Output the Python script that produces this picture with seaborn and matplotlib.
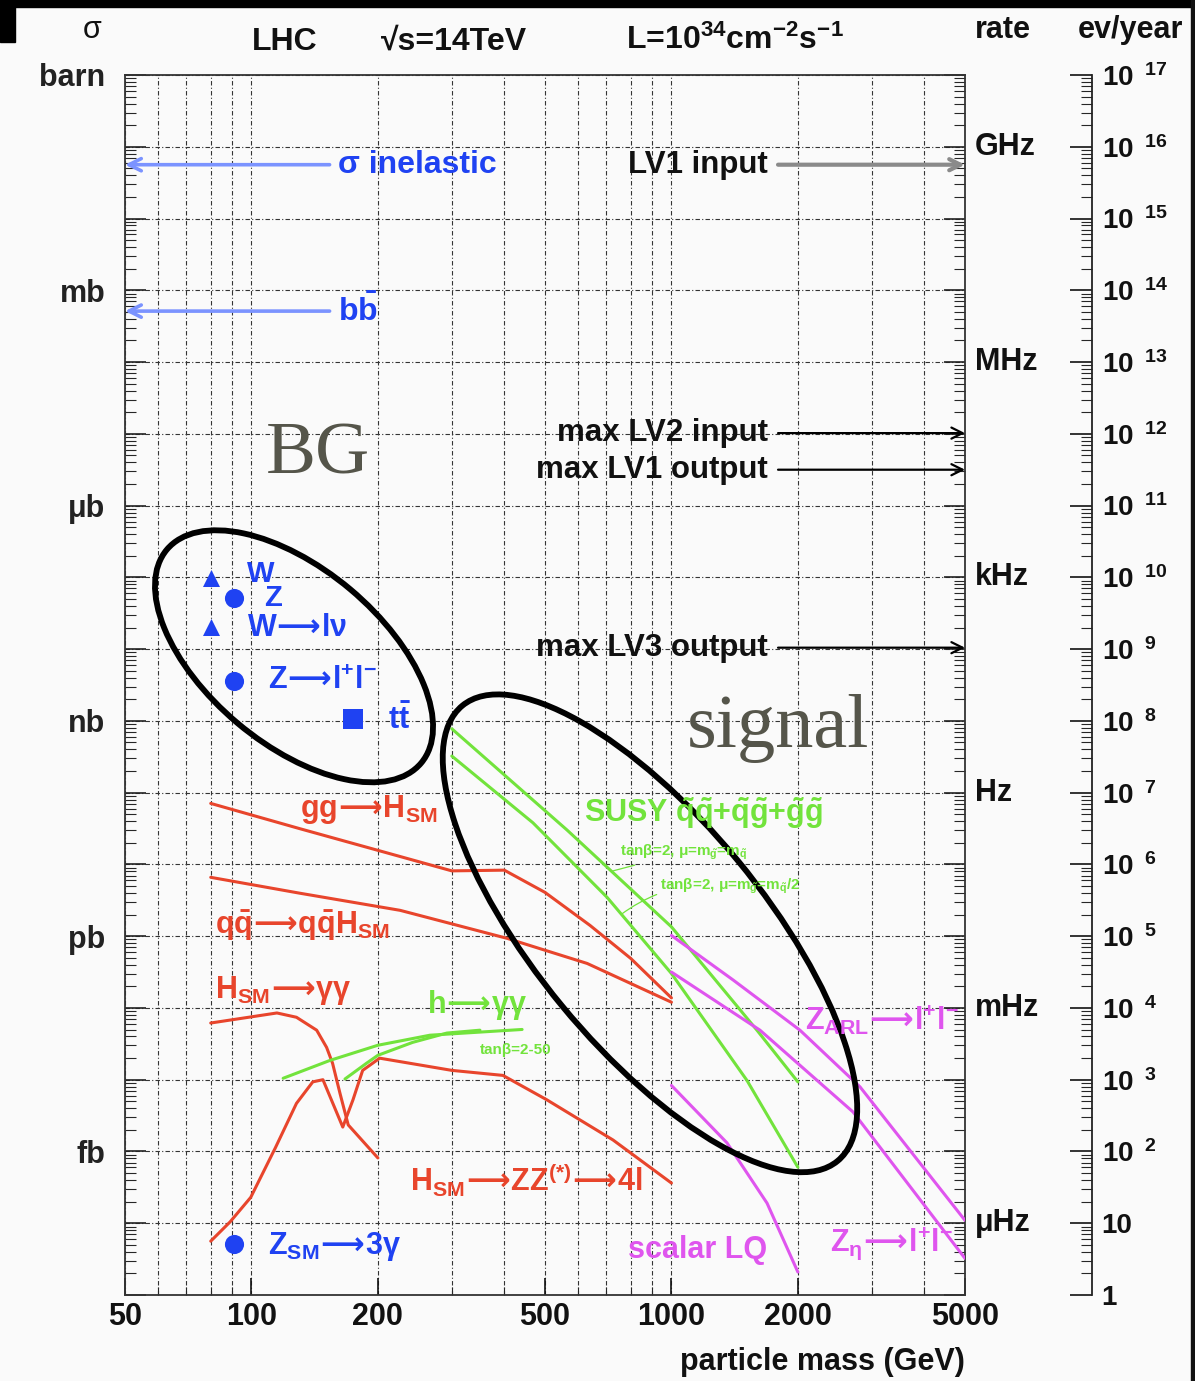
import numpy as np
import pandas as pd
import matplotlib
matplotlib.use('Agg')
import matplotlib.pyplot as plt
import matplotlib.ticker as mticker
import matplotlib.transforms as mtransforms
from matplotlib.patches import Ellipse, Rectangle
import seaborn as sns

# ---------------- data ----------------
mass_ticks = [50, 100, 200, 500, 1000, 2000, 5000]
mass_minor = [60, 70, 80, 90, 300, 400, 600, 700, 800, 900, 3000, 4000]
sigma_units = ['barn', 'mb', 'μb', 'nb', 'pb', 'fb']
sigma_unit_exp = [0, -3, -6, -9, -12, -15]
rate_units = ['GHz', 'MHz', 'kHz', 'Hz', 'mHz', 'μHz']
rate_unit_exp = [-1, -4, -7, -10, -13, -16]
evyear_exp = list(range(0, 18))

# total cross sections (log10 barn)
inelastic_log = -1.25
bbbar_log = -3.29

# trigger levels (log10 barn equivalent)
trigger_names = ['LV1 input', 'max LV2 input', 'max LV1 output', 'max LV3 output']
trigger_log = [-1.25, -4.99, -5.50, -7.98]

# background / SM points
pt_mass = [80.2, 90.9, 80.2, 90.9, 174.6, 90.9]
pt_log = [-7.01, -7.29, -7.69, -8.44, -8.97, -16.29]
pt_marker = ['^', 'o', '^', 'o', 's', 'o']

# curves: mass (GeV) and log10(sigma / barn)
ggH_m = [80, 130, 300, 400, 500, 640, 800, 1000]
ggH_l = [-10.15, -10.50, -11.09, -11.08, -11.39, -11.85, -12.31, -12.86]
qqH_m = [80, 130, 226, 406, 630, 1000]
qqH_l = [-11.18, -11.40, -11.64, -12.03, -12.38, -12.92]
Hgg_m = [80, 115, 128, 143, 151, 156, 162.5, 170, 200]
Hgg_l = [-13.21, -13.07, -13.13, -13.31, -13.55, -13.77, -14.19, -14.63, -15.09]
HZZ_m = [80, 89, 99.6, 114, 128, 140, 148, 165, 174.5, 184, 202, 300, 397, 505, 726, 1000]
HZZ_l = [-16.25, -15.98, -15.64, -14.95, -14.33, -14.03, -14.00, -14.66, -14.28,
         -13.87, -13.70, -13.87, -13.94, -14.28, -14.84, -15.44]
hgg_up_m = [119, 154, 200, 266, 441]
hgg_up_l = [-13.98, -13.73, -13.52, -13.38, -13.30]
hgg_lo_m = [167, 188, 200, 242, 292, 350]
hgg_lo_l = [-13.99, -13.77, -13.66, -13.48, -13.35, -13.31]
susy1_m = [300, 564, 1000, 1598, 2000]
susy1_l = [-9.11, -10.52, -11.87, -13.31, -14.03]
susy2_m = [300, 468, 703, 1000, 1513, 2000]
susy2_l = [-9.49, -10.42, -11.46, -12.52, -14.01, -15.22]
zarl_m = [1000, 1402, 2023, 2812, 5000]
zarl_l = [-11.99, -12.61, -13.31, -14.10, -15.96]
zeta_m = [1000, 1625, 2707, 5000]
zeta_l = [-12.50, -13.31, -14.45, -16.49]
lq_m = [1000, 1356, 1689, 2000]
lq_l = [-14.08, -14.88, -15.72, -16.68]

# ellipses: centre (mass, log10 sigma)
bg_ell_center = (126.3, -8.10)
sig_ell_center = (889.0, -11.96)

# ---------------- style ----------------
sns.set_theme(style='white')
plt.rcParams['font.family'] = ['Liberation Sans', 'DejaVu Sans']
plt.rcParams['font.weight'] = 'bold'
plt.rcParams['mathtext.fontset'] = 'custom'
plt.rcParams['mathtext.rm'] = 'Liberation Sans:bold'
plt.rcParams['mathtext.bf'] = 'Liberation Sans:bold'
plt.rcParams['mathtext.it'] = 'Liberation Sans:bold'
plt.rcParams['mathtext.sf'] = 'DejaVu Sans'

RED = '#e8452c'
GREEN = '#72e33c'
MAG = '#df55ee'
BLUE = '#1f42f2'
BLUE_L = '#7b93ff'
BGC = '#fafafa'
ARR = r'$\!\mathsf{\longrightarrow}\!$'

W, H = 1195, 1381
fig = plt.figure(figsize=(W / 100, H / 100), dpi=100, facecolor=BGC)
ax = fig.add_axes([125 / W, 1 - 1295 / H, 840 / W, 1220 / H])
ax.set_facecolor(BGC)
ax.set_xscale('log')
ax.set_yscale('log')
ax.set_xlim(50, 5000)
ax.set_ylim(1e-17, 1)

# ticks
ax.xaxis.set_major_locator(mticker.FixedLocator(mass_ticks))
ax.xaxis.set_major_formatter(mticker.FixedFormatter([str(v) for v in mass_ticks]))
ax.xaxis.set_minor_locator(mticker.FixedLocator(mass_minor))
ax.xaxis.set_minor_formatter(mticker.NullFormatter())
ax.yaxis.set_major_locator(mticker.FixedLocator([10.0 ** e for e in range(-17, 1)]))
ax.yaxis.set_minor_locator(mticker.LogLocator(base=10, subs=np.arange(2, 10), numticks=1000))
unit_map = dict(zip(sigma_unit_exp, sigma_units))
ax.yaxis.set_major_formatter(mticker.FuncFormatter(
    lambda v, p: unit_map.get(int(round(np.log10(v))), '')))
ax.yaxis.set_minor_formatter(mticker.NullFormatter())
ax.tick_params(axis='y', which='major', direction='in', length=15, width=1.2,
               left=True, right=True, labelsize=22, pad=14, colors='#222')
ax.tick_params(axis='y', which='minor', direction='in', length=8, width=0.8,
               left=True, right=True)
ax.tick_params(axis='x', which='major', direction='in', length=12, width=1.2,
               bottom=True, top=False, labelsize=22, pad=5, colors='#111')
ax.tick_params(axis='x', which='minor', direction='in', length=6, width=0.8,
               bottom=True, top=False)
for s in ax.spines.values():
    s.set_color('#333')
    s.set_linewidth(1.3)

gls = (0, (4, 2, 1, 2))
ax.set_axisbelow(True)
ax.grid(True, axis='x', which='both', color='#333', lw=0.8, linestyle=gls)
ax.grid(True, axis='y', which='major', color='#333', lw=0.8, linestyle=gls)

# ---------------- curves ----------------
curves = [
    (ggH_m, ggH_l, RED), (qqH_m, qqH_l, RED), (Hgg_m, Hgg_l, RED), (HZZ_m, HZZ_l, RED),
    (hgg_up_m, hgg_up_l, GREEN), (hgg_lo_m, hgg_lo_l, GREEN),
    (susy1_m, susy1_l, GREEN), (susy2_m, susy2_l, GREEN),
    (zarl_m, zarl_l, MAG), (zeta_m, zeta_l, MAG), (lq_m, lq_l, MAG),
]
for m, l, c in curves:
    df = pd.DataFrame({'mass': m, 'sigma': 10.0 ** np.asarray(l)})
    sns.lineplot(data=df, x='mass', y='sigma', color=c, lw=2.2, sort=False,
                 estimator=None, ax=ax, zorder=3)

# markers
pts = pd.DataFrame({'mass': pt_mass, 'sigma': 10.0 ** np.asarray(pt_log), 'mk': pt_marker})
for mk, size in [('^', 150), ('o', 190), ('s', 200)]:
    sub = pts[pts['mk'] == mk]
    sns.scatterplot(data=sub, x='mass', y='sigma', marker=mk, s=size, color=BLUE,
                    edgecolor=BLUE, linewidth=0, ax=ax, zorder=5, legend=False)
ax.set_xlabel('')
ax.set_ylabel('')

# ellipses (centre in data units, size in inches on screen)
for (cm, cl), w, h, ang in [(bg_ell_center, 3.32, 1.75, -40.0),
                            (sig_ell_center, 5.90, 2.28, -50.5)]:
    tr = fig.dpi_scale_trans + mtransforms.ScaledTranslation(cm, 10.0 ** cl, ax.transData)
    ax.add_patch(Ellipse((0, 0), w, h, angle=ang, fill=False, ec='black', lw=4.2,
                         transform=tr, zorder=4, clip_on=False))

# arrows
arr_x_left = 153.5
arr_x_right = 1794
for lg, lab in [(inelastic_log, 'σ inelastic'), (bbbar_log, r'$\mathbf{b\bar{b}}$')]:
    ax.annotate('', xy=(50, 10 ** lg), xytext=(arr_x_left, 10 ** lg),
                arrowprops=dict(arrowstyle='->', color=BLUE_L, lw=2.6,
                                shrinkA=0, shrinkB=0, mutation_scale=22), zorder=5)
    ax.text(160.7, 10 ** lg, lab, color=BLUE, fontsize=23, ha='left', va='center', zorder=6)

for i, (name, lg) in enumerate(zip(trigger_names, trigger_log)):
    col = '#8a8a8a' if i == 0 else 'black'
    lw = 3.0 if i == 0 else 1.6
    ax.annotate('', xy=(5000, 10 ** lg), xytext=(arr_x_right, 10 ** lg),
                arrowprops=dict(arrowstyle='->', color=col, lw=lw,
                                shrinkA=0, shrinkB=0, mutation_scale=20), zorder=5)
    ax.text(1698, 10 ** lg, name, color='#111', fontsize=22.5, ha='right', va='center', zorder=6)

# big BG / signal text
ax.text(144, 10 ** -5.30, 'BG', family='Liberation Serif', weight='normal',
        fontsize=54, color='#55554a', ha='center', va='center', zorder=2)
ax.text(1794, 10 ** -9.10, 'signal', family='Liberation Serif', weight='normal',
        fontsize=55, color='#55554a', ha='center', va='center', zorder=2)

# labels
labels = [
    (97.6, -6.96, 'W', BLUE, 21),
    (107, -7.29, 'Z', BLUE, 21),
    (97.6, -7.71, 'W' + ARR + 'lν', BLUE, 22),
    (109.5, -8.44, 'Z' + ARR + r'l$^{+}$l$^{-}$', BLUE, 22),
    (211, -8.99, r'$\mathbf{t\bar{t}}$', BLUE, 22),
    (109.5, -16.33, r'Z$_{SM}$' + ARR + '3γ', BLUE, 22),
    (130.5, -10.24, 'gg' + ARR + r'H$_{SM}$', RED, 22),
    (81.9, -11.85, r'$\mathbf{q\bar{q}}$' + ARR + r'$\mathbf{q\bar{q}}$H$_{SM}$', RED, 22),
    (81.9, -12.76, r'H$_{SM}$' + ARR + 'γγ', RED, 22),
    (238.5, -15.40, r'H$_{SM}$' + ARR + r'ZZ$^{(*)}$' + ARR + '4l', RED, 22),
    (262, -12.96, 'h' + ARR + 'γγ', GREEN, 22),
    (350, -13.59, 'tanβ=2-50', GREEN, 11),
    (619, -10.29, r'SUSY $\tilde{q}\tilde{q}$+$\tilde{q}\tilde{g}$+$\tilde{g}\tilde{g}$', GREEN, 22),
    (2080, -13.17, r'Z$_{ARL}$' + ARR + r'l$^{+}$l$^{-}$', MAG, 22),
    (2385, -16.29, r'Z$_{η}$' + ARR + r'l$^{+}$l$^{-}$', MAG, 22),
    (788, -16.37, 'scalar LQ', MAG, 22),
]
for xm, lg, txt, c, fs in labels:
    ax.text(xm, 10 ** lg, txt, color=c, fontsize=fs, ha='left', va='center', zorder=6)

# small SUSY parameter labels with leader lines to the curves
def on_curve(m, l, x):
    return 10 ** np.interp(np.log10(x), np.log10(m), l)

ax.annotate(r'tanβ=2, μ=m$_{\tilde{g}}$=m$_{\tilde{q}}$', xy=(720, on_curve(susy1_m, susy1_l, 720)),
            xytext=(754, 10 ** -10.83), color=GREEN, fontsize=11, ha='left', va='center',
            arrowprops=dict(arrowstyle='-', color=GREEN, lw=0.9, shrinkA=0, shrinkB=0), zorder=6)
ax.annotate(r'tanβ=2, μ=m$_{\tilde{g}}$=m$_{\tilde{q}}$/2', xy=(760, on_curve(susy2_m, susy2_l, 760)),
            xytext=(939, 10 ** -11.30), color=GREEN, fontsize=11, ha='left', va='center',
            arrowprops=dict(arrowstyle='-', color=GREEN, lw=0.9, shrinkA=0, shrinkB=0,
                            connectionstyle='arc3,rad=0.2'), zorder=6)

# rate labels on the right of the frame
blend = mtransforms.blended_transform_factory(ax.transAxes, ax.transData)
for name, e in zip(rate_units, rate_unit_exp):
    ax.text(1.012, 10.0 ** e, name, transform=blend, ha='left', va='center',
            fontsize=22, color='#111')

# ev/year axis
ax3 = fig.add_axes([(1092 - 40) / W, 1 - 1295 / H, 40 / W, 1220 / H])
ax3.set_yscale('log')
ax3.set_ylim(1, 1e17)
ax3.patch.set_visible(False)
for k in ['left', 'top', 'bottom']:
    ax3.spines[k].set_visible(False)
ax3.spines['right'].set_color('#222')
ax3.spines['right'].set_linewidth(1.3)
ax3.xaxis.set_visible(False)
ax3.yaxis.set_major_locator(mticker.FixedLocator([10.0 ** e for e in evyear_exp]))
ax3.yaxis.set_minor_locator(mticker.LogLocator(base=10, subs=np.arange(2, 10), numticks=1000))

def ev_fmt(v, p):
    e = int(round(np.log10(v)))
    if e == 0:
        return '1'
    if e == 1:
        return '10'
    return r'$10^{\ \ %d}$' % e

ax3.yaxis.set_major_formatter(mticker.FuncFormatter(ev_fmt))
ax3.yaxis.set_minor_formatter(mticker.NullFormatter())
ax3.tick_params(axis='y', which='major', direction='in', left=False, right=True,
                labelleft=False, labelright=True, length=16, width=1.2,
                labelsize=20, pad=7, colors='#111')
ax3.tick_params(axis='y', which='minor', direction='in', left=False, right=True,
                length=8, width=0.8)

# header / footer texts
def ftext(x, y, s, **kw):
    fig.text(x / W, 1 - y / H, s, **kw)

ftext(92, 30, 'σ', fontsize=22, ha='center', va='center', weight='normal', color='#111')
ftext(285, 42, 'LHC', fontsize=23, ha='center', va='center', color='#111')
ftext(454, 42, '√s=14TeV', fontsize=23, ha='center', va='center', color='#111')
ftext(735, 40, r'L=10$^{34}$cm$^{-2}$s$^{-1}$', fontsize=23, ha='center', va='center', color='#111')
ftext(1003, 30, 'rate', fontsize=22, ha='center', va='center', color='#111')
ftext(1130, 30, 'ev/year', fontsize=22, ha='center', va='center', color='#111')
ftext(965, 1362, 'particle mass (GeV)', fontsize=22, ha='right', va='center', color='#111')

# screenshot frame edges
fig.patches.append(Rectangle((0, 1 - 7 / H), 1, 7 / H, transform=fig.transFigure,
                             color='black', zorder=0))
fig.patches.append(Rectangle((0, 1 - 42 / H), 15 / W, 42 / H, transform=fig.transFigure,
                             color='black', zorder=0))
fig.patches.append(Rectangle((1 - 4 / W, 0), 4 / W, 1, transform=fig.transFigure,
                             color='#111', zorder=0))

fig.savefig('out.png', dpi=100, facecolor=fig.get_facecolor())
